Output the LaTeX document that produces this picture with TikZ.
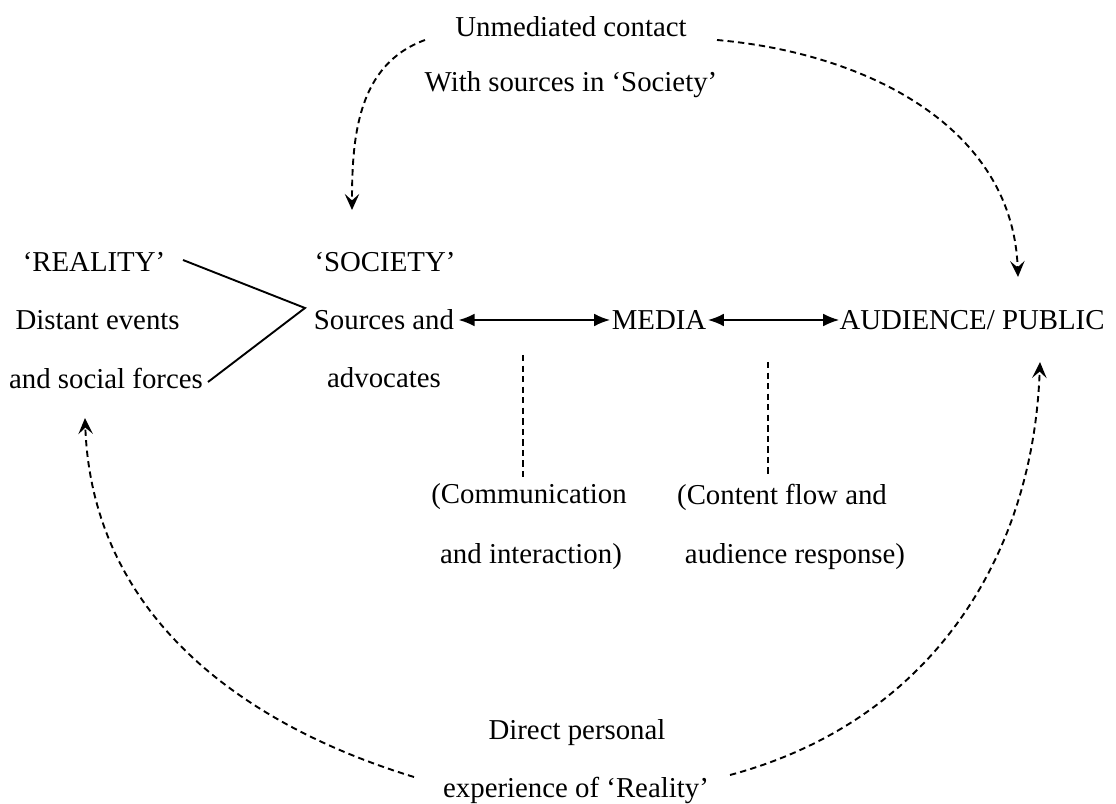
\documentclass[tikz,border=0pt]{standalone}
\usepackage{fontspec}
\setmainfont{Liberation Serif}
\usetikzlibrary{positioning,arrows.meta}

\begin{document}
\begin{tikzpicture}[every node/.style={font=\fontsize{20.5}{24}\selectfont, inner sep=1pt},
  flow/.style={line width=1.35pt, dash pattern=on 4.5pt off 3pt, -{Stealth[length=4mm,width=3.6mm,inset=1.6mm]}},
  link/.style={line width=1.35pt, {Latex[length=4mm,width=3.2mm]}-{Latex[length=4mm,width=3.2mm]}},
  guide/.style={line width=1.35pt, dash pattern=on 4.5pt off 3pt}]
 \useasboundingbox (0,0) rectangle (27.9,-20.1);

 %Nodes
 \node (reality) at (2.35,-6.55) {`REALITY'};
 \node (distant) at (2.44,-8.0) {Distant events};
 \node (forces) at (2.65,-9.45) {and social forces};

 \node (society) at (9.625,-6.55) {`SOCIETY'};
 \node (sources) at (9.6,-8.0) {Sources and};
 \node (advocates) at (9.6,-9.45) {advocates};

 \node (media) at (16.475,-8.0) {MEDIA};
 \node (audience) at (24.3,-8.0) {AUDIENCE/ PUBLIC};

 \node (unmediated) at (14.275,-0.675) {Unmediated contact};
 \node (withsources) at (14.275,-2.125) {With sources in `Society'};

 \node (communication) at (13.225,-12.425) {(Communication};
 \node (interaction) at (13.275,-13.925) {and interaction)};
 \node (content) at (19.55,-12.425) {(Content flow and};
 \node (response) at (19.875,-13.925) {audience response)};

 \node (direct) at (14.425,-18.325) {Direct personal};
 \node (experience) at (14.4,-19.75) {experience of `Reality'};

 %Coordinates
 \coordinate (fork) at (7.625,-7.7);
 \coordinate (realityend) at (4.575,-6.5);
 \coordinate (forcesend) at (5.2,-9.55);
 \coordinate (commtop) at (13.075,-8.875);
 \coordinate (contenttop) at (19.2,-9.05);
 \coordinate (topleft) at (10.625,-1.0);
 \coordinate (topright) at (17.925,-1.0);
 \coordinate (societytip) at (8.8,-5.25);
 \coordinate (audiencetip) at (25.45,-6.925);
 \coordinate (bottomleft) at (10.35,-19.425);
 \coordinate (bottomright) at (18.25,-19.375);
 \coordinate (forcestip) at (2.125,-10.45);
 \coordinate (publictip) at (26.0,-9.05);

 %Reality to society
 \draw[line width=1.35pt] (realityend) -- (fork) -- (forcesend);

 %Arrows
 \draw[link, shorten <=2pt] (sources.east) -- (media.west);
 \draw[link, shorten >=-1pt] (media.east) -- (audience.west);

 \draw[guide, shorten >=4pt] (commtop) -- (communication.north -| commtop);
 \draw[guide, shorten >=4pt] (contenttop) -- (content.north -| contenttop);

 \draw[flow] (topleft) to[out=200,in=90] (societytip);
 \draw[flow] (topright) to[out=-5,in=92] (audiencetip);
 \draw[flow] (bottomleft) to[out=163,in=-88] (forcestip);
 \draw[flow] (bottomright) to[out=15,in=-92] (publictip);
\end{tikzpicture}
\end{document}
